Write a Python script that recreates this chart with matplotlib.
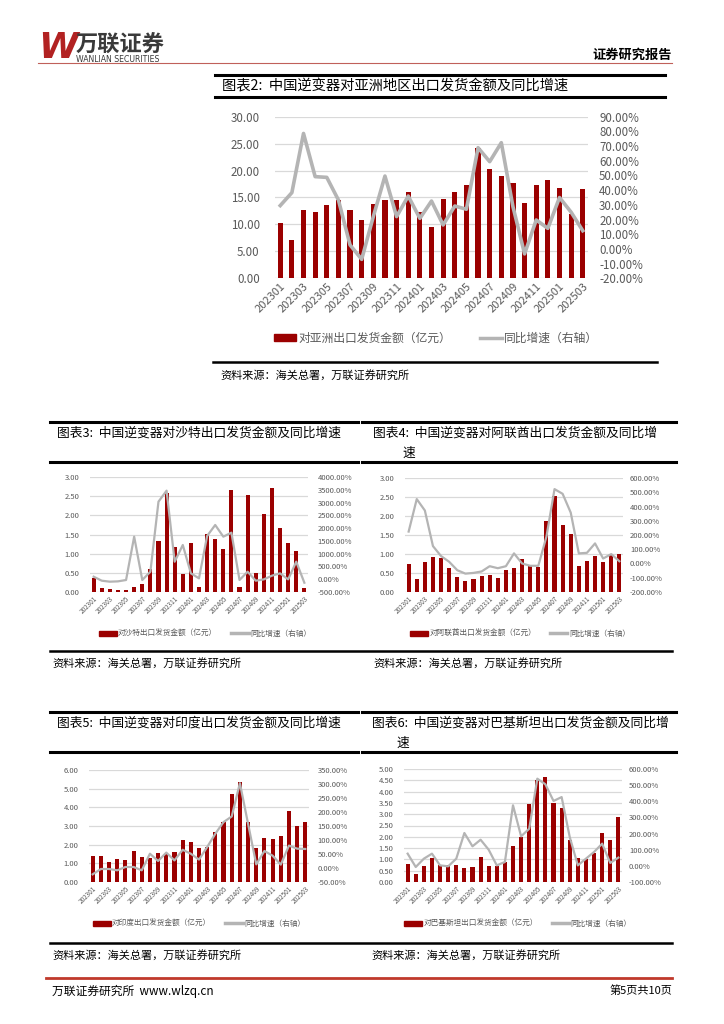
import matplotlib
matplotlib.use("Agg")
import matplotlib.pyplot as plt
from matplotlib.patches import Rectangle
from matplotlib.lines import Line2D
import matplotlib.ticker as mticker

plt.rcParams['font.family'] = ['Noto Sans CJK SC', 'DejaVu Sans']
plt.rcParams['axes.unicode_minus'] = False

# ---------------- data ----------------
months = ["202301", "202302", "202303", "202304", "202305", "202306", "202307", "202308", "202309",
          "202310", "202311", "202312", "202401", "202402", "202403", "202404", "202405", "202406",
          "202407", "202408", "202409", "202410", "202411", "202412", "202501", "202502", "202503"]

asia_amt = [10.3, 7.2, 12.7, 12.3, 13.6, 14.5, 12.7, 10.9, 13.8, 14.6, 14.6, 16.1, 12.4, 9.6,
            14.8, 16.1, 17.3, 24.2, 20.2, 19.0, 17.6, 14.0, 17.3, 18.2, 16.8, 11.9, 16.6]
asia_yoy = [29.5, 38.3, 78.6, 49.2, 48.7, 33.3, 2.7, -7.1, 22.0, 49.6, 22.0, 36.0, 20.8, 32.6,
            16.3, 29.2, 27.0, 68.9, 59.4, 72.3, 28.8, -3.4, 19.7, 14.0, 35.0, 25.0, 12.4]

saudi_amt = [0.35, 0.09, 0.07, 0.05, 0.05, 0.12, 0.20, 0.59, 1.34, 2.58, 1.16, 0.46, 1.27, 0.13,
             1.51, 1.38, 1.12, 2.67, 0.13, 2.53, 0.49, 2.04, 2.72, 1.67, 1.27, 1.06, 0.09]
saudi_yoy = [90, -67, -106, -93, -40, 1665, -40, 287, 3042, 3475, 680, 1337, 222, 25,
             1691, 2124, 1665, 1822, -40, 287, -67, -15, 130, 222, -15, 680, -146]

uae_amt = [0.73, 0.34, 0.79, 0.93, 0.90, 0.62, 0.40, 0.28, 0.34, 0.41, 0.46, 0.37, 0.57, 0.62,
           0.86, 0.70, 0.67, 1.87, 2.53, 1.77, 1.52, 0.69, 0.81, 0.94, 0.79, 0.98, 1.00]
uae_yoy = [224, 452, 372, 122, 52, 12, -47, -71, -66, -56, -19, -33, -19, 71,
           0, -16, -16, 188, 522, 489, 357, 71, 75, 141, 35, 66, 16]

india_amt = [1.38, 1.38, 1.05, 1.25, 1.20, 1.64, 1.32, 1.30, 1.55, 1.52, 1.62, 2.23, 2.12, 1.80,
             1.85, 2.70, 3.20, 4.72, 5.37, 3.20, 1.80, 2.37, 2.30, 2.48, 3.80, 3.02, 3.23]
india_yoy = [-22.6, -3.6, -3.6, -8.3, 3.6, 3.6, -8.3, 51, 25, 55, 27, 65, 51, 30,
             75, 122.6, 164, 184, 303, 158, 13, 60.7, 44, 12, 80, 69, 68]

pak_amt = [0.78, 0.34, 0.69, 1.05, 0.75, 0.75, 0.75, 0.60, 0.66, 1.09, 0.69, 0.70, 0.88, 1.58,
           1.99, 3.47, 4.50, 4.63, 3.50, 3.27, 1.85, 1.08, 1.00, 1.30, 2.18, 1.88, 2.88]
pak_yoy = [75.5, -7, 44.5, 75.5, 3, -3, 44.5, 203.5, 121, 162, 100, 3, 24, 375,
           183, 230, 540, 505, 402, 426, 179, 3, 44.5, 86, 137.5, 18, 51]

BAR = "#9B0000"
LINE = "#B4B4B4"
GRID = "#D9D9D9"
TXT = "#595959"

W, H = 724, 1024
fig = plt.figure(figsize=(W / 100, H / 100), dpi=100)


def fx(x):
    return x / W


def fy(y):
    return 1 - y / H


def hline(x0, x1, y, lw, color="black"):
    fig.add_artist(Line2D([fx(x0), fx(x1)], [fy(y), fy(y)], lw=lw, color=color,
                          transform=fig.transFigure))


def make_chart(box, amt, yoy, lylim, lstep, rylim, rstep, fs_tick, fs_x, bar_w, line_w,
               leg_labels, leg_center, leg_fs, leg_hl, leg_cs, lpad, rpad):
    x0, x1, ytop, ybot = box
    ax = fig.add_axes([fx(x0), fy(ybot), fx(x1) - fx(x0), (ybot - ytop) / H])
    xs = list(range(len(months)))
    ax.bar(xs, amt, width=bar_w, color=BAR, zorder=2)
    ax.set_ylim(*lylim)
    ax.set_xlim(-0.45, len(months) - 0.55)
    ax.yaxis.set_major_locator(mticker.MultipleLocator(lstep))
    ax.yaxis.set_major_formatter(mticker.FormatStrFormatter("%.2f"))
    ax.grid(axis="y", color=GRID, lw=0.9, zorder=0)
    ax.set_axisbelow(True)
    for s in ax.spines.values():
        s.set_visible(False)
    ax.tick_params(axis="y", length=0, labelsize=fs_tick, colors=TXT, pad=lpad)
    ax.set_xticks(xs[::2])
    ax.set_xticklabels(months[::2], rotation=45, ha="right", rotation_mode="anchor",
                       fontsize=fs_x, color=TXT)
    ax.tick_params(axis="x", length=0, pad=2)
    ax2 = ax.twinx()
    ax2.plot(xs, yoy, color=LINE, lw=line_w, zorder=3)
    ax2.set_ylim(*rylim)
    ax2.yaxis.set_major_locator(mticker.MultipleLocator(rstep))
    ax2.yaxis.set_major_formatter(mticker.FuncFormatter(lambda v, p: "%.2f%%" % v))
    for s in ax2.spines.values():
        s.set_visible(False)
    ax2.tick_params(axis="y", length=0, labelsize=fs_tick, colors=TXT, pad=rpad)
    handles = [Rectangle((0, 0), 1, 1, color=BAR), Line2D([0], [0], color=LINE, lw=2.5)]
    fig.legend(handles, leg_labels, loc="center", bbox_to_anchor=(fx(leg_center[0]), fy(leg_center[1])),
               ncol=2, frameon=False, fontsize=leg_fs, handlelength=leg_hl, handleheight=0.6,
               handletextpad=0.2, columnspacing=leg_cs, labelcolor=TXT)
    return ax, ax2


# ---------------- header ----------------
fig.text(fx(38), fy(48), "W", color="#B22222", fontsize=26, fontweight="bold",
         va="center", ha="left", family=["DejaVu Sans"], style="italic")
fig.text(fx(76), fy(45), "万联证券", color="#3A3A3A", fontsize=16, fontweight="bold",
         va="center", ha="left")
fig.text(fx(76), fy(59), "WANLIAN SECURITIES", color="#3A3A3A", fontsize=5.6,
         va="center", ha="left", family=["DejaVu Sans"])
fig.text(fx(672), fy(55), "证券研究报告", color="black", fontsize=9.5, fontweight="bold",
         va="center", ha="right")
hline(38, 672, 63, 0.8, "#C0605A")

# ---------------- chart 2 ----------------
hline(215, 665, 75, 2.2)
hline(215, 665, 97, 2.2)
fig.text(fx(222), fy(86), "图表2:  中国逆变器对亚洲地区出口发货金额及同比增速", fontsize=10.3,
         va="center", ha="left")
make_chart((275, 588, 116.7, 278.3), asia_amt, asia_yoy, (0, 30), 5, (-20, 90), 10,
           8.3, 8, 0.45, 2.6,
           ["对亚洲出口发货金额（亿元）", "同比增速（右轴）"], (436, 338), 8.5, 1.9, 2.4,
           11, 8)
hline(213, 657, 362, 1.8)
fig.text(fx(220), fy(375), "资料来源：海关总署，万联证券研究所", fontsize=8, va="center",
         ha="left", style="italic")

# ---------------- row 2 titles ----------------
hline(50, 358, 422, 2.2)
hline(50, 358, 462, 2.2)
hline(362, 676, 422, 2.2)
hline(362, 676, 462, 2.2)
fig.text(fx(57), fy(433), "图表3:  中国逆变器对沙特出口发货金额及同比增速", fontsize=9.2,
         va="center", ha="left")
fig.text(fx(373), fy(433), "图表4:  中国逆变器对阿联酋出口发货金额及同比增", fontsize=9.2,
         va="center", ha="left")
fig.text(fx(402), fy(453), "速", fontsize=9.2, va="center", ha="left")

make_chart((90, 308, 477.3, 591.7), saudi_amt, saudi_yoy, (0, 3), 0.5, (-500, 4000), 500,
           5.5, 4.6, 0.5, 1.6,
           ["对沙特出口发货金额（亿元）", "同比增速（右轴）"], (205, 634), 5.5, 2.3, 1.8,
           7.5, 7)
make_chart((405, 623, 478, 592), uae_amt, uae_yoy, (0, 3), 0.5, (-200, 600), 100,
           5.5, 4.6, 0.5, 1.6,
           ["对阿联酋出口发货金额（亿元）", "同比增速（右轴）"], (520, 634), 5.5, 2.3, 1.8,
           7.5, 5)

hline(50, 672, 651, 1.8)
fig.text(fx(52), fy(663), "资料来源：海关总署，万联证券研究所", fontsize=8, va="center",
         ha="left", style="italic")
fig.text(fx(373), fy(663), "资料来源：海关总署，万联证券研究所", fontsize=8, va="center",
         ha="left", style="italic")

# ---------------- row 3 ----------------
hline(50, 358, 712, 2.2)
hline(50, 358, 752, 2.2)
hline(362, 676, 712, 2.2)
hline(362, 676, 752, 2.2)
fig.text(fx(57), fy(723), "图表5:  中国逆变器对印度出口发货金额及同比增速", fontsize=9.2,
         va="center", ha="left")
fig.text(fx(372), fy(723), "图表6:  中国逆变器对巴基斯坦出口发货金额及同比增", fontsize=9.2,
         va="center", ha="left")
fig.text(fx(396), fy(743), "速", fontsize=9.2, va="center", ha="left")

make_chart((89, 309, 770, 882), india_amt, india_yoy, (0, 6), 1, (-50, 350), 50,
           5.5, 4.6, 0.5, 1.6,
           ["对印度出口发货金额（亿元）", "同比增速（右轴）"], (199, 924), 5.5, 2.3, 1.8,
           7.5, 6)
make_chart((404, 622, 769, 882), pak_amt, pak_yoy, (0, 5), 0.5, (-100, 600), 100,
           5.5, 4.6, 0.5, 1.6,
           ["对巴基斯坦出口发货金额（亿元）", "同比增速（右轴）"], (518, 924), 5.5, 2.3, 1.8,
           7.5, 5)

hline(50, 672, 943, 1.8)
fig.text(fx(52), fy(955), "资料来源：海关总署，万联证券研究所", fontsize=8, va="center",
         ha="left", style="italic")
fig.text(fx(371), fy(955), "资料来源：海关总署，万联证券研究所", fontsize=8, va="center",
         ha="left", style="italic")

# ---------------- footer ----------------
hline(46, 672, 978, 2.0, "#C0392B")
fig.text(fx(52), fy(991), "万联证券研究所  www.wlzq.cn", fontsize=8.5, va="center", ha="left")
fig.text(fx(672), fy(991), "第5页共10页", fontsize=8, va="center", ha="right")

fig.savefig("out.png", dpi=100)
